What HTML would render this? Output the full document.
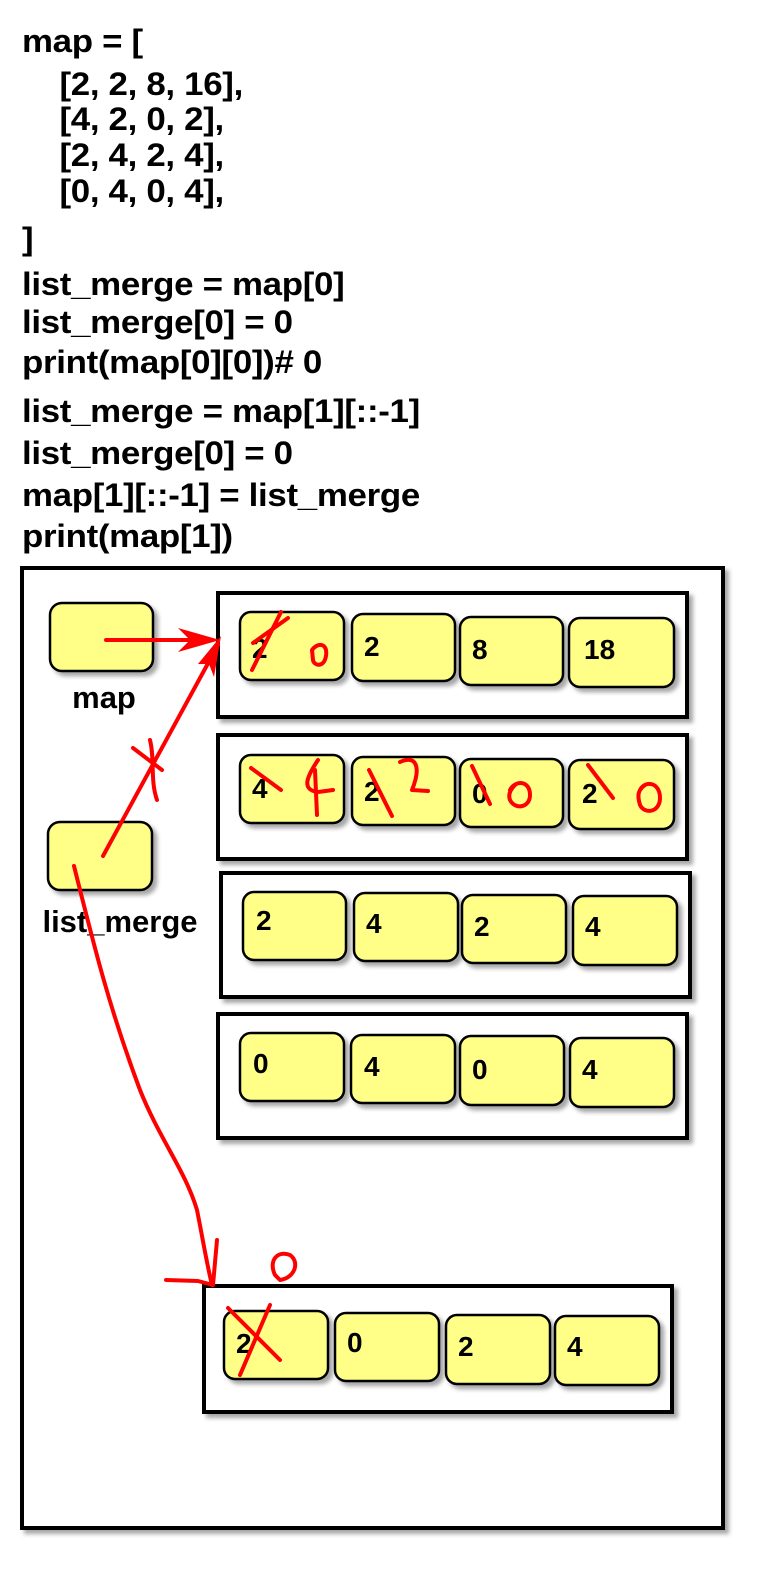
<!DOCTYPE html>
<html><head><meta charset="utf-8"><style>
body{margin:0;width:761px;height:1586px;background:#fff;position:relative;overflow:hidden;font-family:"Liberation Sans",Arial,sans-serif;}
.t{position:absolute;left:22px;font-weight:bold;font-size:32px;line-height:34px;color:#000;white-space:pre;transform:scaleX(1.09);transform-origin:0 0;letter-spacing:-0.3px}
svg{position:absolute;left:0;top:0}
</style></head><body>
<div class="t" style="top:24px">map = [</div>
<div class="t" style="top:67px">    [2, 2, 8, 16],</div>
<div class="t" style="top:102px">    [4, 2, 0, 2],</div>
<div class="t" style="top:138px">    [2, 4, 2, 4],</div>
<div class="t" style="top:174px">    [0, 4, 0, 4],</div>
<div class="t" style="top:222px">]</div>
<div class="t" style="top:267px">list_merge = map[0]</div>
<div class="t" style="top:305px">list_merge[0] = 0</div>
<div class="t" style="top:345px">print(map[0][0])# 0</div>
<div class="t" style="top:394px">list_merge = map[1][::-1]</div>
<div class="t" style="top:436px">list_merge[0] = 0</div>
<div class="t" style="top:478px">map[1][::-1] = list_merge</div>
<div class="t" style="top:519px">print(map[1])</div>
<svg width="761" height="1586" xmlns="http://www.w3.org/2000/svg" font-family="Liberation Sans, Arial, sans-serif" font-weight="bold">
<defs><filter id="sh" x="-5%" y="-5%" width="115%" height="115%"><feDropShadow dx="4" dy="4" stdDeviation="2" flood-color="#000" flood-opacity="0.35"/></filter></defs>
<rect x="22" y="568" width="701" height="960" fill="#fff" stroke="#000" stroke-width="4" filter="url(#sh)"/>
<g fill="#fff" stroke="#000" stroke-width="4" filter="url(#sh)">
<rect x="218" y="593" width="469" height="124"/>
<rect x="218" y="735" width="469" height="124"/>
<rect x="221" y="873" width="469" height="124"/>
<rect x="218" y="1014" width="469" height="124"/>
<rect x="204" y="1286" width="468" height="126"/>
</g>
<g fill="#ffff88" stroke="#000" stroke-width="2.5" filter="url(#sh)">
<rect x="50" y="603" width="103" height="68" rx="12"/>
<rect x="48" y="822" width="104" height="68" rx="12"/>
<rect x="240" y="612" width="104" height="68" rx="11"/><rect x="352" y="614" width="103" height="67" rx="11"/><rect x="460" y="617" width="103" height="68" rx="11"/><rect x="569" y="618" width="105" height="69" rx="11"/>
<rect x="240" y="755" width="104" height="68" rx="11"/><rect x="352" y="757" width="103" height="68" rx="11"/><rect x="460" y="759" width="103" height="68" rx="11"/><rect x="569" y="760" width="105" height="69" rx="11"/>
<rect x="243" y="892" width="103" height="68" rx="11"/><rect x="354" y="893" width="104" height="68" rx="11"/><rect x="462" y="895" width="104" height="68" rx="11"/><rect x="573" y="896" width="104" height="69" rx="11"/>
<rect x="240" y="1033" width="104" height="68" rx="11"/><rect x="351" y="1035" width="104" height="68" rx="11"/><rect x="460" y="1036" width="104" height="69" rx="11"/><rect x="570" y="1038" width="104" height="69" rx="11"/>
<rect x="224" y="1311" width="104" height="68" rx="11"/><rect x="335" y="1313" width="104" height="68" rx="11"/><rect x="446" y="1315" width="104" height="69" rx="11"/><rect x="555" y="1316" width="104" height="69" rx="11"/>
</g>
<g font-size="28" fill="#000">
<text x="252" y="658">2</text><text x="364" y="656">2</text><text x="472" y="659">8</text><text x="584" y="659">18</text>
<text x="252" y="798">4</text><text x="364" y="801">2</text><text x="472" y="803">0</text><text x="582" y="803">2</text>
<text x="256" y="930">2</text><text x="366" y="933">4</text><text x="474" y="936">2</text><text x="585" y="936">4</text>
<text x="253" y="1073">0</text><text x="364" y="1076">4</text><text x="472" y="1079">0</text><text x="582" y="1079">4</text>
<text x="236" y="1353">2</text><text x="347" y="1352">0</text><text x="458" y="1356">2</text><text x="567" y="1356">4</text>
</g>
<text x="104" y="708" font-size="31" text-anchor="middle">map</text>
<text x="120" y="932" font-size="31" text-anchor="middle">list_merge</text>
<g fill="none" stroke="#f00" stroke-width="4" stroke-linecap="round" stroke-linejoin="round">
<path d="M106 640 L210 640"/>
<path d="M103 856 L218 645"/>
<path d="M150 740 C155 760 150 780 157 800"/>
<path d="M133 748 L162 770"/>
<path d="M74 866 C95 950 110 1010 140 1090 C160 1140 185 1170 197 1210 C203 1240 206 1260 212 1285"/>
<path d="M217 1240 L213 1285 L198 1281 L166 1280"/>
<path d="M253 643 L288 618"/><path d="M252 670 L281 612"/>
<path d="M312 650 C318 642 328 643 326 656 C324 668 314 666 313 660 Z"/>
<path d="M251 768 L281 790"/><path d="M318 760 C308 775 300 790 318 792 L333 790"/><path d="M315 770 L317 815"/>
<path d="M369 770 L392 816"/><path d="M400 762 C415 755 422 765 412 790 L428 791"/>
<path d="M472 766 L490 804"/><path d="M510 790 C515 780 530 780 530 795 C530 808 515 810 510 800 C508 795 510 790 515 785"/>
<path d="M588 765 L613 798"/><path d="M640 790 C645 780 660 782 660 798 C660 812 645 815 640 805 C637 795 638 790 645 785"/>
<path d="M228 1308 L280 1360"/><path d="M270 1305 L240 1375"/>
<path d="M275 1275 C268 1260 278 1250 290 1255 C300 1262 295 1278 280 1280 Z"/>
</g>
<g fill="#f00">
<polygon points="220,640 178,628 190,640 178,652"/>
<polygon points="221,636 198,664 209,664 214,677"/>
</g>
</svg>
</body></html>
